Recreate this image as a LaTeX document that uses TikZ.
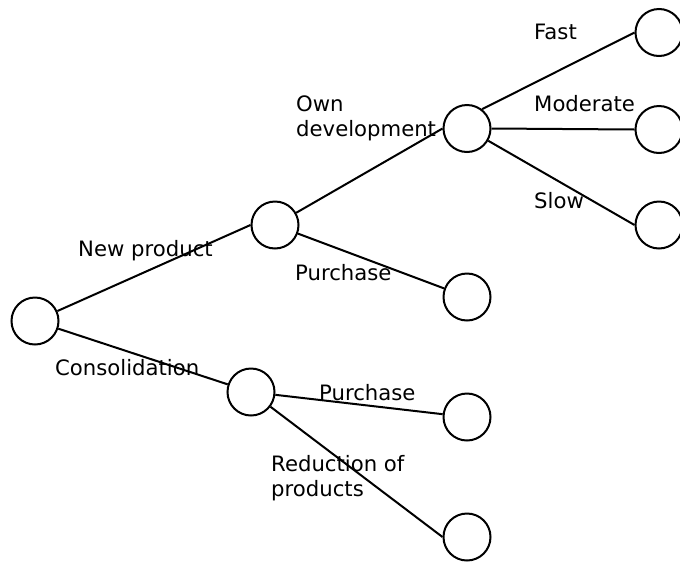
\documentclass[tikz,border=0pt]{standalone}
\usepackage{fontspec}
\setmainfont{DejaVu Sans}
\begin{document}
\begin{tikzpicture}[x=1pt,y=-1pt,
  state/.style={circle,draw,line width=2pt,minimum size=47pt,inner sep=0pt},
  conn/.style={line width=2pt},
  lbl/.style={anchor=base west,inner sep=0pt,font=\fontsize{21.2}{25}\selectfont,align=left}]
\useasboundingbox (0,0) rectangle (680,563);
\node[state] (root) at (35,321) {};
\node[state] (np) at (275,225) {};
\node[state] (co) at (251,392) {};
\node[state] (od) at (467,128.5) {};
\node[state] (fast) at (659,32.5) {};
\node[state] (mod) at (659,129.5) {};
\node[state] (slow) at (659,225) {};
\node[state] (pu1) at (467,297) {};
\node[state] (pu2) at (467,417) {};
\node[state] (red) at (467,537) {};
\draw[conn] (root) -- (np.west);
\draw[conn] (root) -- (co);
\draw[conn] (np) -- (od.west);
\draw[conn] (np) -- (pu1);
\draw[conn] (od.52) -- (fast.west);
\draw[conn] (od.east) -- (mod.west);
\draw[conn] (od.-30) -- (slow.west);
\draw[conn] (co) -- (pu2);
\draw[conn] (co) -- (red.west);
\node[lbl] (lfast) at (534,39.5) {Fast};
\node[lbl] (lmod) at (534,111.5) {Moderate};
\node[lbl] (lslow) at (534,208.5) {Slow};
\node[lbl] (lod) at (296,136.7) {Own\\development};
\node[lbl] (lnp) at (78,256) {New product};
\node[lbl] (lpu1) at (295,280) {Purchase};
\node[lbl] (lco) at (55,375.7) {Consolidation};
\node[lbl] (lpu2) at (319,400) {Purchase};
\node[lbl] (lred) at (271,496.7) {Reduction of\\products};
\end{tikzpicture}
\end{document}
